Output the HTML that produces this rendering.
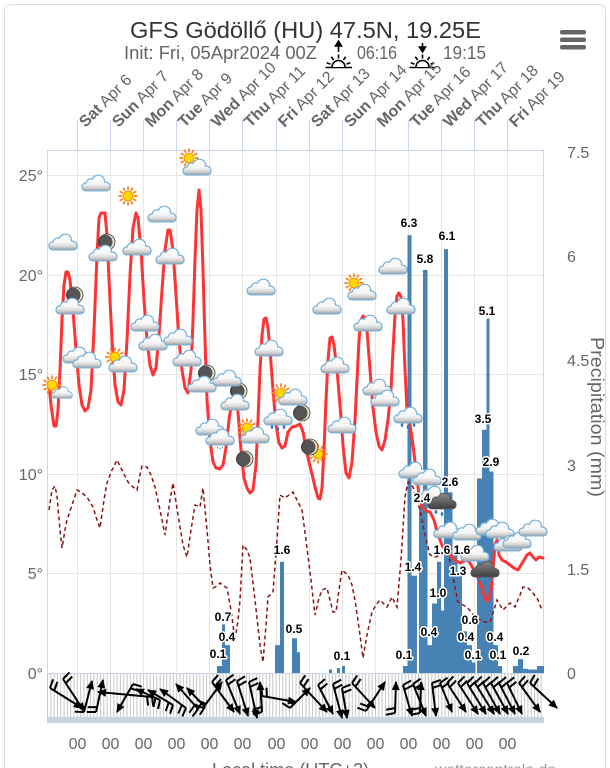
<!DOCTYPE html>
<html><head><meta charset="utf-8"><style>
html,body{margin:0;padding:0;background:#fff;width:610px;height:768px;overflow:hidden}
svg{display:block;font-family:"Liberation Sans",Arial,sans-serif}
.dl{font-size:12px;font-weight:bold;fill:#000;text-anchor:middle;paint-order:stroke;stroke:#fff;stroke-width:3px;stroke-linejoin:round}
.ax{font-size:16px;fill:#666}
</style></head><body>
<svg width="610" height="768" viewBox="0 0 610 768" xmlns="http://www.w3.org/2000/svg">
<defs>
<linearGradient id="cg" x1="0" y1="0" x2="0" y2="1"><stop offset="0" stop-color="#fff"/><stop offset="0.55" stop-color="#f6f6f6"/><stop offset="0.78" stop-color="#d6d6d6"/><stop offset="1" stop-color="#9e9e9e"/></linearGradient>
<linearGradient id="dg" x1="0" y1="0" x2="0" y2="1"><stop offset="0" stop-color="#8a8a8a"/><stop offset="1" stop-color="#3e3e3e"/></linearGradient>
<symbol id="cl" viewBox="0 0 32 20"><path d="M6,19 C2,19 1,16.5 1,14.5 C1,12 3,10.5 5.5,10.5 C6,7 9,5.5 12,6.5 C13.5,3 17,1.5 20.5,2.5 C24,3.5 25.5,6.5 25,9.5 C28.5,9.5 31,11.5 31,14.5 C31,17.5 29,19 26,19 Z" fill="url(#cg)" stroke="#74b1dc" stroke-width="1.3"/></symbol>
<symbol id="dc" viewBox="0 0 32 20"><path d="M6,19 C2,19 1,16.5 1,14.5 C1,12 3,10.5 5.5,10.5 C6,7 9,5.5 12,6.5 C13.5,3 17,1.5 20.5,2.5 C24,3.5 25.5,6.5 25,9.5 C28.5,9.5 31,11.5 31,14.5 C31,17.5 29,19 26,19 Z" fill="url(#dg)" stroke="#555" stroke-width="1"/></symbol>
<symbol id="sun" viewBox="-12 -12 24 24"><path d="M6.5,0L10.5,0M5.63,3.25L9.09,5.25M3.25,5.63L5.25,9.09M0,6.5L0,10.5M-3.25,5.63L-5.25,9.09M-5.63,3.25L-9.09,5.25M-6.5,0L-10.5,0M-5.63,-3.25L-9.09,-5.25M-3.25,-5.63L-5.25,-9.09M0,-6.5L0,-10.5M3.25,-5.63L5.25,-9.09M5.63,-3.25L9.09,-5.25" stroke="#ff7d1a" stroke-width="1.8"/><circle r="5.3" fill="#ffd800" stroke="#ff9800" stroke-width="1.2"/></symbol>
<symbol id="moon" viewBox="-9 -9 18 18"><circle r="8" fill="#e8e2c2"/><circle cx="-1.8" r="7.3" fill="#555"/><circle r="8" fill="none" stroke="#3a3a3a" stroke-width="0.8"/></symbol>
<symbol id="rd" viewBox="0 0 20 8"><ellipse cx="4" cy="3" rx="1.3" ry="2" fill="#2f7fc4"/><ellipse cx="10" cy="5" rx="1.3" ry="2" fill="#2f7fc4"/><ellipse cx="16" cy="3" rx="1.3" ry="2" fill="#2f7fc4"/></symbol>
<pattern id="wp" x="47" y="0" width="3.313" height="10" patternUnits="userSpaceOnUse"><rect width="3.313" height="10" fill="#fff"/><rect x="0" width="1" height="10" fill="#c6c6c6"/></pattern>
<marker id="ah" viewBox="-9 -5 10 10" refX="0" refY="0" markerWidth="10" markerHeight="10" markerUnits="userSpaceOnUse" orient="auto"><path d="M1,0 L-8,-4 L-8,4 Z" fill="#000"/></marker>
<marker id="b2" viewBox="-10 -12 20 24" refX="0" refY="0" markerWidth="20" markerHeight="24" markerUnits="userSpaceOnUse" orient="auto"><path d="M0,0 L-2,-9 M5,0 L3,-9" stroke="#000" stroke-width="2" fill="none"/></marker>
</defs>

<rect x="4.5" y="4.5" width="601" height="800" rx="6" fill="#fff" stroke="#dcdcdc"/>

<!-- header -->
<text x="130" y="38" font-size="23" fill="#333" textLength="351" lengthAdjust="spacingAndGlyphs">GFS Gödöllő (HU) 47.5N, 19.25E</text>
<text x="124" y="59" font-size="18" fill="#666" textLength="193" lengthAdjust="spacingAndGlyphs">Init: Fri, 05Apr2024 00Z</text>
<text x="357" y="59" font-size="18" fill="#666" textLength="40" lengthAdjust="spacingAndGlyphs">06:16</text>
<text x="443" y="59" font-size="18" fill="#666" textLength="43" lengthAdjust="spacingAndGlyphs">19:15</text>
<g stroke="#000" stroke-width="1.6" fill="none">
<g transform="translate(338.5,67)"><path d="M-13,0.5H13.5"/><path d="M-6.5,0 A6.5,6.5 0 0 1 6.5,0" fill="#fff"/><path d="M7.99,-2.91L11.75,-4.28M4.88,-6.96L7.17,-10.24M0,-8.5L0,-12.5M-4.88,-6.96L-7.17,-10.24M-7.99,-2.91L-11.75,-4.28"/><path d="M0,-15V-22"/><path d="M0,-26 L-3,-21 L3,-21Z" fill="#000"/></g>
<g transform="translate(422.5,67)"><path d="M-13,0.5H13.5"/><path d="M-6.5,0 A6.5,6.5 0 0 1 6.5,0" fill="#fff"/><path d="M7.99,-2.91L11.75,-4.28M4.88,-6.96L7.17,-10.24M0,-8.5L0,-12.5M-4.88,-6.96L-7.17,-10.24M-7.99,-2.91L-11.75,-4.28"/><path d="M0,-24V-19"/><path d="M0,-15 L-3,-20 L3,-20Z" fill="#000"/></g>
</g>
<g fill="#666"><rect x="560" y="30" width="26" height="4.5" rx="2"/><rect x="560" y="37.5" width="26" height="4.5" rx="2"/><rect x="560" y="45" width="26" height="4.5" rx="2"/></g>

<!-- day labels -->
<g font-size="16" fill="#666">
<text transform="translate(85.5,128) rotate(-45)"><tspan font-weight="bold">Sat</tspan> Apr 6</text>
<text transform="translate(118.5,128) rotate(-45)"><tspan font-weight="bold">Sun</tspan> Apr 7</text>
<text transform="translate(151.5,128) rotate(-45)"><tspan font-weight="bold">Mon</tspan> Apr 8</text>
<text transform="translate(184.5,128) rotate(-45)"><tspan font-weight="bold">Tue</tspan> Apr 9</text>
<text transform="translate(217.5,128) rotate(-45)"><tspan font-weight="bold">Wed</tspan> Apr 10</text>
<text transform="translate(250.5,128) rotate(-45)"><tspan font-weight="bold">Thu</tspan> Apr 11</text>
<text transform="translate(284.5,128) rotate(-45)"><tspan font-weight="bold">Fri</tspan> Apr 12</text>
<text transform="translate(317.5,128) rotate(-45)"><tspan font-weight="bold">Sat</tspan> Apr 13</text>
<text transform="translate(350.5,128) rotate(-45)"><tspan font-weight="bold">Sun</tspan> Apr 14</text>
<text transform="translate(383.5,128) rotate(-45)"><tspan font-weight="bold">Mon</tspan> Apr 15</text>
<text transform="translate(416.5,128) rotate(-45)"><tspan font-weight="bold">Tue</tspan> Apr 16</text>
<text transform="translate(449.5,128) rotate(-45)"><tspan font-weight="bold">Wed</tspan> Apr 17</text>
<text transform="translate(482.5,128) rotate(-45)"><tspan font-weight="bold">Thu</tspan> Apr 18</text>
<text transform="translate(515.5,128) rotate(-45)"><tspan font-weight="bold">Fri</tspan> Apr 19</text>
</g>

<!-- grid -->
<g stroke="#e6e6e6" stroke-width="1">
<path d="M47,175.5H544M47,275.5H544M47,374.5H544M47,474.5H544M47,573.5H544"/>
<path d="M77.5,150V673M110.5,150V673M143.5,150V673M176.5,150V673M209.5,150V673M242.5,150V673M276.5,150V673M309.5,150V673M342.5,150V673M375.5,150V673M408.5,150V673M441.5,150V673M474.5,150V673M507.5,150V673"/>
</g>
<g stroke="#ccd6eb" stroke-width="1" fill="none">
<path d="M47,150.5H544M47.5,150V673M543.5,150V673"/>
<path d="M77.5,120V150M110.5,120V150M143.5,120V150M176.5,120V150M209.5,120V150M242.5,120V150M276.5,120V150M309.5,120V150M342.5,120V150M375.5,120V150M408.5,120V150M441.5,120V150M474.5,120V150M507.5,120V150"/>
</g>

<!-- axis labels -->
<g class="ax" text-anchor="end">
<text x="43" y="181">25°</text><text x="43" y="281">20°</text><text x="43" y="380">15°</text><text x="43" y="480">10°</text><text x="43" y="579">5°</text><text x="43" y="679">0°</text>
</g>
<g class="ax">
<text x="567" y="158">7.5</text><text x="567" y="262">6</text><text x="567" y="366">4.5</text><text x="567" y="471">3</text><text x="567" y="575">1.5</text><text x="567" y="679">0</text>
</g>
<text transform="translate(591,337) rotate(90)" font-size="18" fill="#666" textLength="160" lengthAdjust="spacingAndGlyphs">Precipitation (mm)</text>

<!-- wind area -->
<rect x="47" y="674" width="497" height="43" fill="url(#wp)"/>
<path d="M47,673.5H544" stroke="#ccd6eb"/>
<rect x="47" y="717" width="497" height="6" fill="#cdd3dc"/>

<!-- precipitation bars -->
<g fill="#4682b4">
<rect x="217" y="666" width="5" height="7"/><rect x="222" y="624.4" width="3" height="48.6"/><rect x="225" y="645.2" width="5" height="27.8"/>
<rect x="275" y="645.2" width="5" height="27.8"/><rect x="280" y="561.8" width="4" height="111.2"/><rect x="292" y="638.3" width="5" height="34.7"/><rect x="297" y="652.2" width="3" height="20.8"/>
<rect x="329" y="669.5" width="3" height="3.5"/><rect x="337" y="668.1" width="3" height="4.9"/><rect x="342" y="666" width="3" height="7"/>
<rect x="403" y="666" width="4.5" height="7"/><rect x="407.5" y="235.2" width="4" height="437.8"/><rect x="411.5" y="575.7" width="5.5" height="97.3"/>
<rect x="419" y="506.2" width="4" height="166.8"/><rect x="423" y="269.9" width="4.5" height="403.1"/><rect x="427.5" y="645.2" width="4.5" height="27.8"/><rect x="432" y="603.5" width="5" height="69.5"/><rect x="437" y="561.8" width="4" height="111.2"/><rect x="441" y="610.5" width="3" height="62.5"/>
<rect x="444" y="249.1" width="4" height="423.9"/><rect x="448" y="492.3" width="4.5" height="180.7"/><rect x="452.5" y="554.8" width="5" height="118.2"/><rect x="457.5" y="575.7" width="4.5" height="97.3"/><rect x="462" y="631.3" width="5" height="41.7"/><rect x="467" y="645.2" width="5" height="27.8"/><rect x="472" y="662.6" width="3.5" height="10.4"/>
<rect x="477" y="478.4" width="5" height="194.6"/><rect x="482" y="429.8" width="4.5" height="243.2"/><rect x="486.5" y="318.6" width="3" height="354.4"/><rect x="489.5" y="471.5" width="4" height="201.5"/><rect x="493.5" y="645.2" width="4.5" height="27.8"/><rect x="498" y="666" width="4" height="7"/>
<rect x="513" y="666" width="5" height="7"/><rect x="518" y="659.1" width="5" height="13.9"/><rect x="523" y="668.8" width="5" height="4.2"/><rect x="528" y="669.5" width="9" height="3.5"/><rect x="537" y="666" width="7" height="7"/>
</g>

<!-- dewpoint -->
<polyline fill="none" stroke="#8b1414" stroke-width="1.5" stroke-dasharray="4,3" points="49,510 52,490 55,486 57,496 60,530 62,548 65,530 67,520 72,505 77,490 82,493 87,497 93,507 97,520 100,528 104,500 107,483 112,470 117,460 122,470 128,482 133,487 137,490 140,475 142,466 147,467 151,475 155,487 160,510 165,535 170,500 173,483 178,515 183,545 187,557 191,530 195,505 200,507 203,488 207,530 210,565 213,588 217,586 220,583 224,586 227,588 231,610 235,640 238,620 240,600 243,545 247,550 250,558 255,600 260,645 263,662 266,625 268,597 273,592 277,540 280,495 285,498 289,495 293,492 297,500 302,510 306,540 311,580 315,615 319,598 322,590 327,588 333,612 336,612 339,590 342,570 348,575 352,585 355,600 360,635 363,658 367,635 372,612 376,605 380,600 387,607 392,597 397,607 401,560 405,497 408,482 413,487 420,510 425,535 430,555 435,557 442,555 448,552 453,577 458,602 463,605 467,607 475,617 480,620 485,622 490,622 494,610 497,600 503,610 510,603 515,607 520,595 523,587 528,588 533,593 538,600 542,610"/>

<!-- temperature -->
<polyline fill="none" stroke="#ff3333" stroke-width="3" stroke-linejoin="round" stroke-linecap="round" points="49,385 51,405 54,426 56,426 58,410 60,370 62,320 64,285 66,272 68,272 70,280 73,310 76,350 79,385 82,405 85,411 88,408 91,390 94,330 97,255 99,218 101,213 105,213 107,235 109,280 112,340 115,385 118,402 121,405 124,390 127,340 130,275 133,228 136,213 138,218 141,250 144,300 147,340 150,365 153,375 156,368 159,335 162,290 165,250 168,230 170,230 173,250 176,295 179,340 182,370 185,388 188,393 191,370 193,320 195,260 197,210 199,190 201,210 203,270 205,340 207,400 210,440 213,462 216,468 220,469 223,465 226,448 229,420 232,400 235,398 238,412 241,450 244,478 247,488 250,493 253,490 256,465 258,420 260,370 262,335 264,319 266,318 268,328 270,350 273,390 276,425 279,443 282,448 285,446 288,432 292,427 296,426 300,424 303,432 306,448 309,462 312,474 315,487 318,498 320,499 322,488 324,450 326,400 328,360 330,338 332,337 334,345 337,370 340,405 343,445 346,473 349,478 352,462 355,420 357,380 359,340 361,320 363,316 365,318 367,330 370,370 373,408 376,432 379,446 382,450 385,440 388,420 391,390 393,350 395,315 397,296 399,293 401,297 403,320 405,370 407,410 410,425 413,445 416,470 419,495 422,507 426,511 430,512 434,520 438,535 442,545 446,552 450,555 455,560 460,563 464,561 467,560 470,563 474,570 478,578 482,588 485,598 487,601 489,598 491,590 493,570 495,545 497,540 499,555 502,560 506,562 510,565 514,568 518,570 521,565 524,560 527,555 530,553 533,557 536,560 539,557 543,558"/>

<!-- wind arrows -->
<g stroke="#000" stroke-width="2" fill="none" marker-start="url(#b2)" marker-end="url(#ah)">
<path d="M50,688L82,708"/><path d="M63,679L84,711"/><path d="M84,712L92,681"/><path d="M96,712L103,680"/><path d="M133,684L117,712"/><path d="M152,697L98,692"/><path d="M160,700L136,689"/><path d="M173,705L148,690"/><path d="M186,708L160,689"/><path d="M198,709L176,684"/><path d="M205,707L187,688"/><path d="M203,708L222,682"/><path d="M212,682L234,712"/><path d="M226,680L240,714"/><path d="M237,681L248,716"/><path d="M249,682L257,718"/><path d="M262,712L260,682"/><path d="M262,696L296,702"/><path d="M290,708L310,688"/><path d="M300,683L327,712"/><path d="M318,685L333,714"/><path d="M333,684L342,718"/><path d="M342,688L347,718"/><path d="M352,683L375,708"/><path d="M366,711L385,682"/><path d="M395,713L396,682"/><path d="M403,685L412,716"/><path d="M413,684L426,716"/><path d="M420,713L421,682"/><path d="M432,683L436,716"/><path d="M440,683L452,712"/><path d="M447,683L466,712"/><path d="M458,683L478,714"/><path d="M467,683L486,714"/><path d="M475,683L494,714"/><path d="M483,683L500,714"/><path d="M491,683L508,714"/><path d="M499,683L515,714"/><path d="M507,683L522,714"/><path d="M519,683L540,712"/><path d="M530,683L557,708"/>
</g>

<!-- suns & moons -->
<use href="#sun" x="41" y="374" width="22" height="22"/><use href="#sun" x="117" y="185" width="22" height="22"/><use href="#sun" x="104" y="346" width="22" height="22"/><use href="#sun" x="178" y="147" width="22" height="22"/><use href="#sun" x="270" y="382" width="22" height="22"/><use href="#sun" x="236" y="417" width="22" height="22"/><use href="#sun" x="307" y="443" width="22" height="22"/><use href="#sun" x="343" y="272" width="22" height="22"/>
<use href="#moon" x="66" y="286" width="18" height="18"/><use href="#moon" x="98" y="233" width="18" height="18"/><use href="#moon" x="198" y="364" width="18" height="18"/><use href="#moon" x="230" y="382" width="18" height="18"/><use href="#moon" x="293" y="404" width="18" height="18"/><use href="#moon" x="236" y="450" width="18" height="18"/><use href="#moon" x="301" y="438" width="18" height="18"/>

<!-- rain drops -->
<use href="#rd" x="268" y="424" width="20" height="8"/><use href="#rd" x="398" y="422" width="20" height="8"/><use href="#rd" x="216" y="444" width="8" height="8"/><use href="#rd" x="432" y="509" width="20" height="8"/><use href="#rd" x="475" y="577" width="20" height="8"/>

<!-- clouds -->
<g>
<use href="#cl" x="48" y="232" width="30" height="19"/><use href="#cl" x="55" y="296" width="30" height="19"/><use href="#cl" x="81" y="173" width="30" height="19"/><use href="#cl" x="88" y="243" width="30" height="19"/><use href="#cl" x="122" y="237" width="30" height="19"/><use href="#cl" x="147" y="204" width="30" height="19"/><use href="#cl" x="155" y="246" width="30" height="19"/><use href="#cl" x="130" y="313" width="30" height="19"/><use href="#cl" x="138" y="332" width="30" height="19"/><use href="#cl" x="163" y="327" width="30" height="19"/><use href="#cl" x="62" y="345" width="30" height="19"/><use href="#cl" x="72" y="350" width="30" height="19"/><use href="#cl" x="108" y="354" width="30" height="19"/><use href="#cl" x="172" y="348" width="30" height="19"/><use href="#cl" x="51" y="385" width="22" height="14"/><use href="#cl" x="182" y="157" width="30" height="19"/><use href="#cl" x="187" y="374" width="30" height="19"/><use href="#cl" x="212" y="368" width="30" height="19"/><use href="#cl" x="220" y="392" width="30" height="19"/><use href="#cl" x="246" y="277" width="30" height="19"/><use href="#cl" x="254" y="338" width="30" height="19"/><use href="#cl" x="278" y="387" width="30" height="19"/><use href="#cl" x="312" y="296" width="30" height="19"/><use href="#cl" x="320" y="355" width="30" height="19"/><use href="#cl" x="347" y="282" width="30" height="19"/><use href="#cl" x="353" y="313" width="30" height="19"/><use href="#cl" x="378" y="256" width="30" height="19"/><use href="#cl" x="386" y="296" width="30" height="19"/><use href="#cl" x="362" y="377" width="30" height="19"/><use href="#cl" x="370" y="388" width="30" height="19"/><use href="#cl" x="195" y="417" width="30" height="19"/><use href="#cl" x="205" y="427" width="30" height="19"/><use href="#cl" x="240" y="425" width="30" height="19"/><use href="#cl" x="327" y="415" width="30" height="19"/><use href="#cl" x="263" y="407" width="30" height="19"/><use href="#cl" x="393" y="405" width="30" height="19"/><use href="#cl" x="398" y="460" width="30" height="19"/><use href="#cl" x="412" y="467" width="30" height="19"/><use href="#cl" x="417" y="484" width="30" height="19"/><use href="#cl" x="433" y="520" width="30" height="19"/><use href="#cl" x="452" y="522" width="30" height="19"/><use href="#cl" x="460" y="543" width="30" height="19"/><use href="#cl" x="475" y="517" width="30" height="19"/><use href="#cl" x="485" y="520" width="30" height="19"/><use href="#cl" x="493" y="533" width="30" height="19"/><use href="#cl" x="502" y="530" width="30" height="19"/><use href="#cl" x="518" y="518" width="30" height="19"/>
<use href="#dc" x="427" y="491" width="30" height="19"/><use href="#dc" x="470" y="559" width="30" height="19"/>
</g>

<!-- data labels -->
<g class="dl">
<text x="223" y="621">0.7</text><text x="227" y="641">0.4</text><text x="218" y="658">0.1</text><text x="282" y="554">1.6</text><text x="294" y="633">0.5</text><text x="342" y="660">0.1</text><text x="404" y="659">0.1</text>
<text x="409" y="227">6.3</text><text x="425" y="263">5.8</text><text x="447" y="240">6.1</text><text x="487" y="315">5.1</text><text x="483" y="423">3.5</text><text x="491" y="466">2.9</text><text x="450" y="486">2.6</text><text x="422" y="502">2.4</text><text x="413" y="571">1.4</text><text x="442" y="554">1.6</text><text x="462" y="554">1.6</text><text x="458" y="575">1.3</text><text x="438" y="597">1.0</text><text x="470" y="624">0.6</text><text x="429" y="636">0.4</text><text x="466" y="641">0.4</text><text x="495" y="641">0.4</text><text x="473" y="659">0.1</text><text x="498" y="659">0.1</text><text x="521" y="655">0.2</text>
</g>

<!-- bottom labels -->
<g class="ax" text-anchor="middle">
<text x="77.5" y="749">00</text><text x="110.5" y="749">00</text><text x="143.5" y="749">00</text><text x="176.5" y="749">00</text><text x="209.5" y="749">00</text><text x="242.5" y="749">00</text><text x="276.5" y="749">00</text><text x="309.5" y="749">00</text><text x="342.5" y="749">00</text><text x="375.5" y="749">00</text><text x="408.5" y="749">00</text><text x="441.5" y="749">00</text><text x="474.5" y="749">00</text><text x="507.5" y="749">00</text>
</g>
<text x="212" y="776" font-size="18" fill="#666" textLength="157" lengthAdjust="spacingAndGlyphs">Local time (UTC+2)</text>
<text x="435" y="774" font-size="14" fill="#999" textLength="121" lengthAdjust="spacingAndGlyphs">wettercentrale.de</text>
</svg>
</body></html>
